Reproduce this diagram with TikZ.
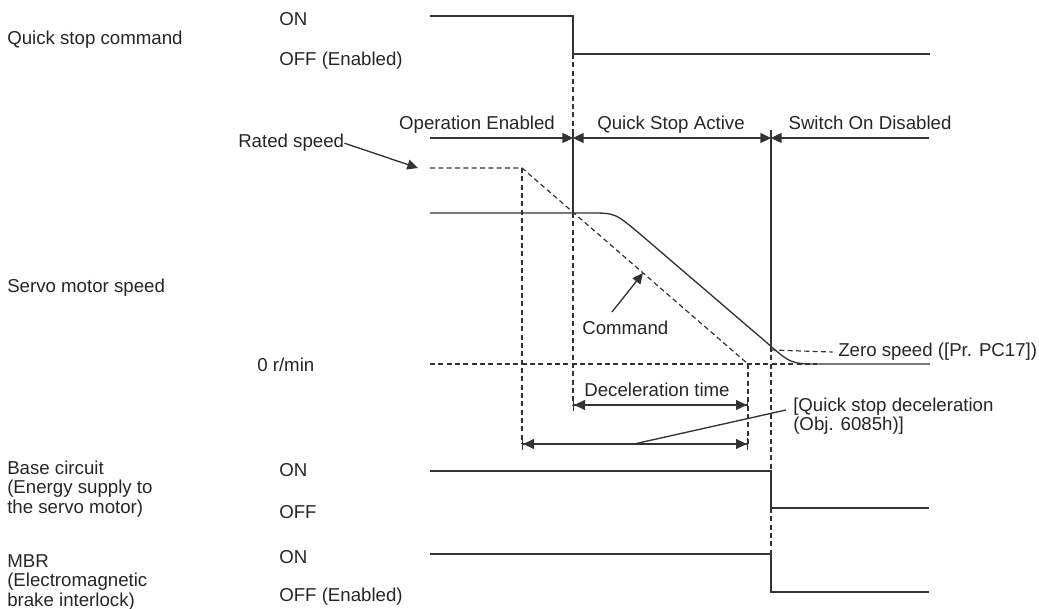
\documentclass[tikz,border=0pt]{standalone}
\usepackage{fontspec}
\setmainfont{Liberation Sans}
\usetikzlibrary{arrows.meta,positioning,calc}

\begin{document}
\begin{tikzpicture}[x=0.75pt,y=-0.75pt,
    every node/.style={font=\fontsize{14}{14.3}\selectfont,text=black!85,inner sep=0pt},
    lbl/.style={anchor=base west,align=left},
    mid/.style={anchor=base},
    sig/.style={draw=black!80,line width=1pt},
    dsh/.style={draw=black!80,line width=0.9pt,dash pattern=on 3.75pt off 2.5pt},
    tip/.style={-{Triangle[length=8pt,width=7.5pt]}},
    both/.style={{Triangle[length=8pt,width=7.5pt]}-{Triangle[length=8pt,width=7.5pt]}},
    span/.style={{Bar[width=9pt]Triangle[length=8pt,width=7.5pt]}-{Triangle[length=8pt,width=7.5pt]Bar[width=9pt]}}]
  \useasboundingbox (0,0) rectangle (1039,609);

  % signal names (multi-line nodes sit on their last line)
  \node[lbl] (qscmd) at (7,45) {Quick stop command};
  \node[lbl] (speed) at (7,293) {Servo motor speed};
  \node[lbl] (base) at (7,513) {Base circuit\\(Energy supply to\\the servo motor)};
  \node[lbl] (mbr) at (7,606) {MBR\\(Electromagnetic\\brake interlock)};

  % levels
  \node[lbl] (qson) at (279,26) {ON};
  \node[lbl] (qsoff) at (279,66) {OFF (Enabled)};
  \node[lbl] (zero) at (257,372) {0 r/min};
  \node[lbl] (baseon) at (279,477) {ON};
  \node[lbl] (baseoff) at (279,518) {OFF};
  \node[lbl] (mbron) at (279,563) {ON};
  \node[lbl] (mbroff) at (279,601) {OFF (Enabled)};

  % states
  \node[mid] (opena) at (477,130) {Operation Enabled};
  \node[mid] (qsact) at (671,130) {Quick Stop Active};
  \node[mid] (swdis) at (870,130) {Switch On Disabled};

  % key points
  \coordinate (opL) at (430,138);
  \coordinate (qsA) at (573,138);
  \coordinate (qsB) at (771,138);
  \coordinate (swR) at (929,138);
  \coordinate (rate) at (430,168);
  \coordinate (cmdK) at (522,168);
  \coordinate (cmdZ) at (748,364);
  \coordinate (zs) at (771,350);

  % quick stop command
  \draw[sig] (430,16) -- (573,16) -- (573,54) -- (930,54);
  \draw[dsh] (573,54) -- (573,130);

  % state arrows
  \draw[sig,tip] (opL) -- (qsA);
  \draw[sig,both] (qsA) -- (qsB);
  \draw[sig,tip] (swR) -- (qsB);
  \draw[sig] (573,130) -- (573,213);
  \draw[sig] (771,130) -- (771,347);

  % speed
  \draw[dsh] (rate) -- (cmdK) -- (cmdZ);
  \draw[dsh] (430,364) -- (817,364);
  \draw[sig] (430,213) -- (590,213) .. controls (615,213) .. (640,234)
    -- (766,342) .. controls (791,364) .. (820,364) -- (930,364);
  \draw[dsh] (573,213) -- (573,405);
  \draw[dsh] (cmdK) -- (522,444);
  \draw[dsh] (cmdZ) -- (748,444);
  \draw[dsh] (771,347) -- (771,471);

  \node[lbl] (rated) at (238,148) {Rated speed};
  \draw[sig,tip] (rated.east) -- (418,168);

  \node[lbl] (cmd) at (582,335) {Command};
  \coordinate (cmdT) at (612,312);
  \coordinate (cmdH) at (643,273);
  \draw[sig,tip] (cmdT) -- (cmdH);

  \node[lbl] (zsp) at (838,357) {Zero speed ([Pr. PC17])};
  \draw[dsh,shorten >=4pt] (zs) -- (zsp.west);

  % deceleration
  \node[mid] (dect) at (657,397) {Deceleration time};
  \draw[sig,span] (573,405) -- (748,405);
  \draw[sig,span] (522,444) -- (748,444);
  \node[lbl] (qsdec) at (793,431) {[Quick stop deceleration\\(Obj. 6085h)]};
  \draw[sig] (634,444) -- (786,410);

  % base circuit and MBR
  \draw[sig] (430,471) -- (771,471) -- (771,508) -- (929,508);
  \draw[dsh] (771,508) -- (771,554);
  \draw[sig] (430,554) -- (771,554) -- (771,592) -- (929,592);
\end{tikzpicture}
\end{document}
